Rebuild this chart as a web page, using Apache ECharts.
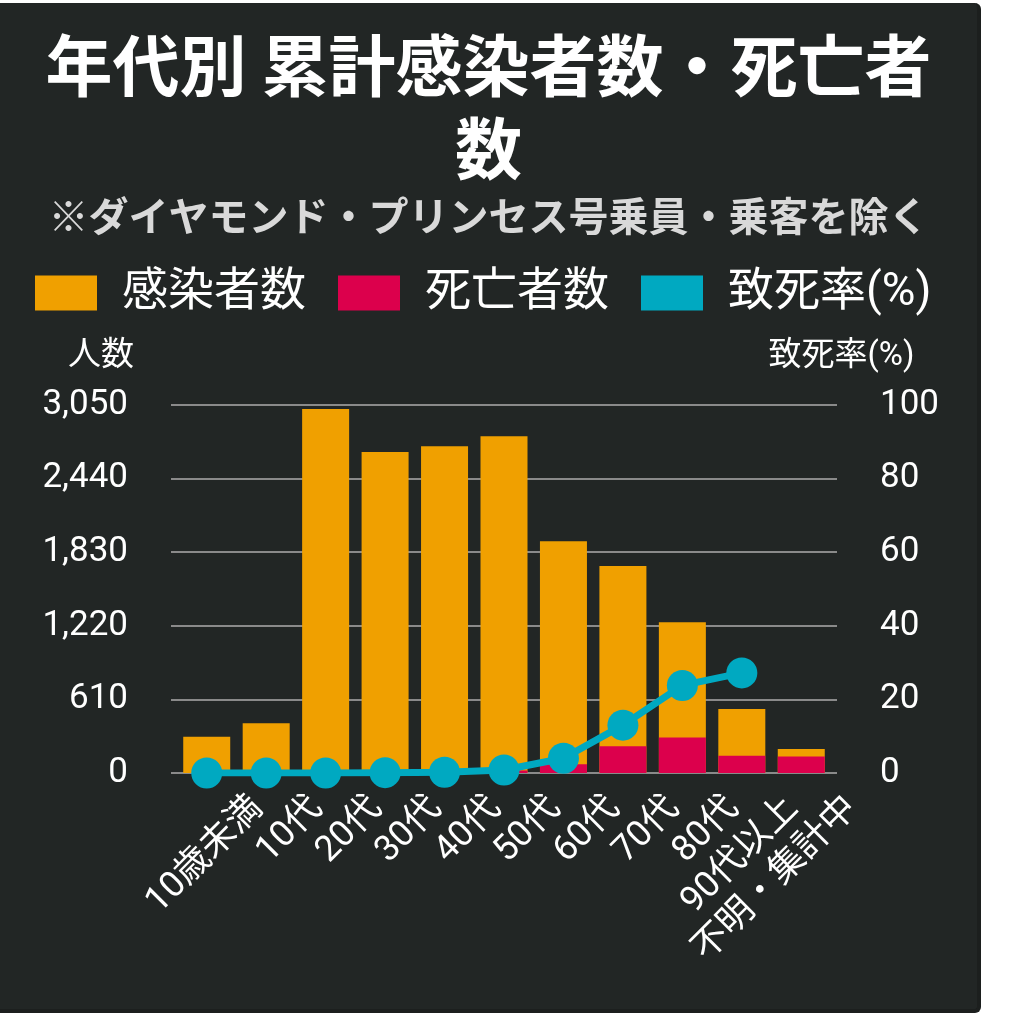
<!DOCTYPE html>
<html>
<head>
<meta charset="utf-8">
<script src="https://cdn.jsdelivr.net/npm/echarts@6/dist/echarts.min.js"></script>
<style>
  html, body { margin: 0; padding: 0; background: #ffffff; }
  #chart { position: absolute; left: 0; top: 3px; width: 977px; height: 1006px;
           background: #222625; border-right: 4px solid #1c1f1e; border-bottom: 4px solid #1c1f1e;
           border-radius: 0 6px 6px 0; }
</style>
</head>
<body>
<div id="chart"></div>
<script>
const titleText = '年代別 累計感染者数・死亡者\n数';
const subtitleText = '※ダイヤモンド・プリンセス号乗員・乗客を除く';
const categories = ['10歳未満', '10代', '20代', '30代', '40代', '50代', '60代', '70代', '80代', '90代以上', '不明・集計中'];
const infected = [301, 412, 3016, 2660, 2709, 2792, 1920, 1715, 1250, 530, 199];
const deaths = [0, 0, 0, 2, 5, 20, 72, 222, 294, 142, 136];
const fatalityRate = [0, 0, 0, 0.1, 0.2, 0.8, 4.0, 13.0, 23.8, 27.2, null];
const leftTicks = [0, 610, 1220, 1830, 2440, 3050];
const rightTicks = [0, 20, 40, 60, 80, 100];
const seriesNames = ['感染者数', '死亡者数', '致死率(%)'];
const axisNames = ['人数', '致死率(%)'];

const C_ORANGE = '#F0A000', C_RED = '#DC004C', C_TEAL = '#00A9C1';
const FONT = "Roboto, 'Noto Sans CJK JP', sans-serif";
const GRID_TOP = 402, GRID_H = 368, GRID_LEFT = 177, GRID_W = 654;

const chart = echarts.init(document.getElementById('chart'));
const option = {
  backgroundColor: 'transparent',
  animation: false,
  title: [
    { text: titleText, left: 'center', top: 16,
      textStyle: { color: '#ffffff', fontSize: 67, fontWeight: 'bold', lineHeight: 83,
                   fontFamily: "'Noto Sans CJK JP', sans-serif" } },
    { text: subtitleText, left: 'center', top: 184,
      textStyle: { color: '#d9d9d9', fontSize: 40, fontWeight: 'bold', lineHeight: 48,
                   fontFamily: "'Noto Sans CJK JP', sans-serif" } }
  ],
  legend: {
    left: 35, top: 267, padding: 0, icon: 'rect', itemWidth: 62, itemHeight: 35, itemGap: 32,
    data: seriesNames,
    textStyle: { color: '#ffffff', fontSize: 46, lineHeight: 46, padding: [0, 0, 0, 20], fontFamily: FONT }
  },
  grid: [
    { left: GRID_LEFT, top: GRID_TOP, width: GRID_W, height: GRID_H },
    { left: GRID_LEFT + 51, top: GRID_TOP, width: GRID_W, height: GRID_H },
    { left: 171, top: GRID_TOP, width: 666, height: GRID_H }
  ],
  xAxis: [
    { type: 'category', gridIndex: 0, data: categories,
      axisLine: { show: false }, axisTick: { show: false }, axisLabel: { show: false } },
    { type: 'category', gridIndex: 1, data: categories,
      axisLine: { show: false }, axisTick: { show: false },
      axisLabel: { interval: 0, rotate: 45, margin: 30, color: '#ffffff', fontSize: 36, fontFamily: FONT } },
    { type: 'value', gridIndex: 2, show: false }
  ],
  yAxis: [
    { type: 'value', gridIndex: 0, min: leftTicks[0], max: leftTicks[leftTicks.length - 1],
      interval: leftTicks[1] - leftTicks[0],
      name: axisNames[0], nameLocation: 'end', nameGap: 48,
      nameTextStyle: { color: '#ffffff', fontSize: 33, align: 'right', verticalAlign: 'middle',
                       padding: [0, 43, 0, 0], fontFamily: FONT },
      axisLine: { show: false }, axisTick: { show: false }, splitLine: { show: false },
      axisLabel: { color: '#ffffff', fontSize: 35, margin: 49, fontFamily: FONT,
                   formatter: v => v.toLocaleString('en-US') } },
    { type: 'value', gridIndex: 0, position: 'right', min: rightTicks[0], max: rightTicks[rightTicks.length - 1],
      interval: rightTicks[1] - rightTicks[0],
      name: axisNames[1], nameLocation: 'end', nameGap: 48,
      nameTextStyle: { color: '#ffffff', fontSize: 33, align: 'center', verticalAlign: 'middle',
                       padding: [0, 0, 0, 21], fontFamily: FONT },
      axisLine: { show: false }, axisTick: { show: false }, splitLine: { show: false },
      axisLabel: { color: '#ffffff', fontSize: 35, margin: 49, fontFamily: FONT } },
    { type: 'value', gridIndex: 1, show: false, min: 0, max: 1 },
    { type: 'value', gridIndex: 2, min: leftTicks[0], max: leftTicks[leftTicks.length - 1],
      interval: leftTicks[1] - leftTicks[0],
      axisLine: { show: false }, axisTick: { show: false }, axisLabel: { show: false },
      splitLine: { show: true, lineStyle: { color: '#8a8a8a', width: 2 } } }
  ],
  series: [
    { name: seriesNames[0], type: 'bar', xAxisIndex: 0, yAxisIndex: 0, data: infected,
      barWidth: 47, barGap: '-100%', itemStyle: { color: C_ORANGE }, z: 2 },
    { name: seriesNames[1], type: 'bar', xAxisIndex: 0, yAxisIndex: 0, data: deaths,
      barWidth: 47, barGap: '-100%', itemStyle: { color: C_RED }, z: 3 },
    { name: seriesNames[2], type: 'line', xAxisIndex: 0, yAxisIndex: 1, data: fatalityRate,
      symbol: 'circle', symbolSize: 31, lineStyle: { color: C_TEAL, width: 7 },
      itemStyle: { color: C_TEAL }, z: 5 }
  ]
};
chart.setOption(option);
</script>
</body>
</html>
